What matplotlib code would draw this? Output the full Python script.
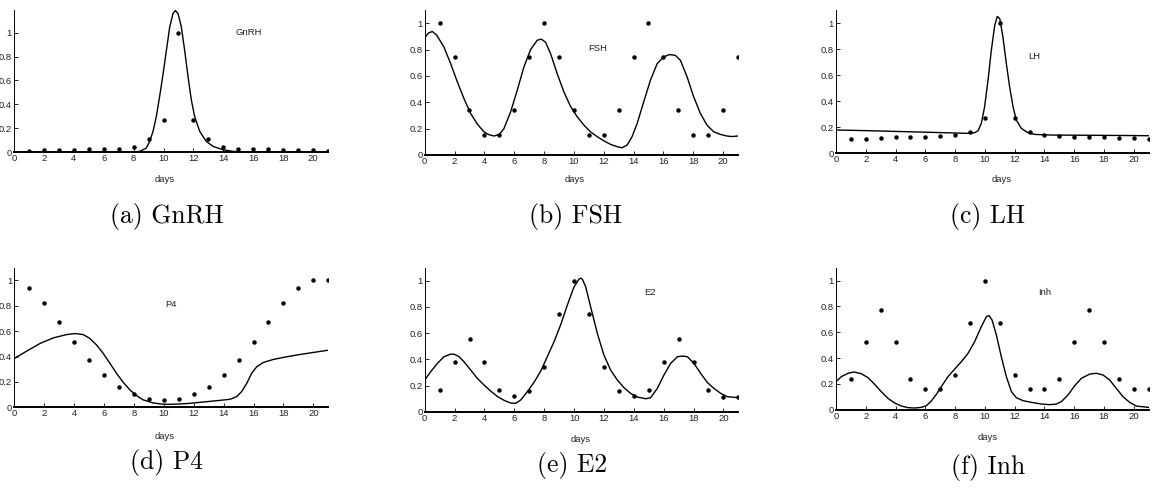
import matplotlib
matplotlib.use("Agg")
import matplotlib.pyplot as plt
from matplotlib import font_manager

W, H = 1152, 490
days = list(range(1, 22))

# ---- data points (normalised measurements) ----
gnrh_pts = [0.005, 0.014, 0.014, 0.02, 0.022, 0.028, 0.028, 0.039, 0.11, 0.265, 1.0,
            0.265, 0.11, 0.04, 0.028, 0.028, 0.022, 0.02, 0.017, 0.014, 0.005]
fsh_pts = [1.0, 0.745, 0.34, 0.15, 0.15, 0.34, 0.745, 1.0, 0.745, 0.34, 0.15,
           0.15, 0.34, 0.745, 1.0, 0.745, 0.34, 0.15, 0.15, 0.34, 0.745]
lh_pts = [0.107, 0.112, 0.117, 0.122, 0.128, 0.128, 0.13, 0.14, 0.16, 0.268, 1.0,
          0.268, 0.16, 0.138, 0.13, 0.128, 0.128, 0.125, 0.12, 0.115, 0.107]
p4_pts = [0.937, 0.819, 0.67, 0.516, 0.372, 0.251, 0.162, 0.102, 0.068, 0.058, 0.068,
          0.102, 0.162, 0.251, 0.372, 0.516, 0.67, 0.819, 0.937, 1.0, 1.0]
e2_pts = [0.168, 0.379, 0.552, 0.379, 0.168, 0.117, 0.155, 0.344, 0.748, 1.0, 0.748,
          0.344, 0.155, 0.117, 0.168, 0.379, 0.552, 0.379, 0.168, 0.112, 0.112]
inh_pts = [0.235, 0.527, 0.77, 0.527, 0.235, 0.16, 0.16, 0.269, 0.669, 1.0, 0.669,
           0.269, 0.16, 0.16, 0.235, 0.527, 0.77, 0.527, 0.235, 0.16, 0.16]

# ---- model curves ----
gnrh_t = [0, 2, 4, 6, 8, 8.4, 8.85, 9.07, 9.3, 9.52, 9.74, 9.96, 10.19, 10.41, 10.63, 10.79,
          10.97, 11.19, 11.41, 11.64, 11.86, 12.08, 12.42, 12.86, 13.31, 13.98, 14.65, 15.76, 18, 21]
gnrh_y = [0, 0, 0, 0, 0.001, 0.005, 0.033, 0.089, 0.173, 0.298, 0.465, 0.646, 0.85, 1.045, 1.16, 1.186,
          1.16, 1.05, 0.855, 0.63, 0.437, 0.298, 0.173, 0.089, 0.047, 0.019, 0.005, 0, 0, 0]

fsh_t = [0, 0.25, 0.51, 0.8, 1.29, 1.74, 2.19, 2.63, 3.08, 3.53, 3.97, 4.31, 4.64, 5.0, 5.31, 5.76,
         6.2, 6.65, 7.1, 7.54, 7.81, 8.1, 8.44, 8.88, 9.33, 9.77, 10.22, 10.67, 11.11, 11.56, 12.0,
         12.45, 12.9, 13.23, 13.57, 13.9, 14.24, 14.68, 15.13, 15.58, 16.02, 16.42, 16.8, 17.14,
         17.59, 18.03, 18.48, 18.92, 19.37, 19.82, 20.26, 20.6, 21.0]
fsh_y = [0.889, 0.925, 0.937, 0.91, 0.819, 0.693, 0.554, 0.428, 0.315, 0.234, 0.176, 0.154, 0.144,
         0.156, 0.2, 0.327, 0.49, 0.668, 0.8, 0.87, 0.879, 0.856, 0.768, 0.617, 0.479, 0.37, 0.29,
         0.227, 0.176, 0.139, 0.108, 0.081, 0.063, 0.055, 0.076, 0.139, 0.239, 0.403, 0.567, 0.693,
         0.745, 0.762, 0.756, 0.718, 0.592, 0.441, 0.315, 0.227, 0.176, 0.156, 0.144, 0.14, 0.144]

lh_t = [0, 2, 4, 6, 8, 8.87, 9.31, 9.54, 9.76, 9.98, 10.21, 10.43, 10.66, 10.83, 11.0, 11.21,
        11.44, 11.66, 11.89, 12.11, 12.45, 12.89, 13.34, 14.46, 17.8, 21]
lh_y = [0.179, 0.174, 0.168, 0.162, 0.156, 0.153, 0.158, 0.173, 0.23, 0.357, 0.561, 0.79, 0.982,
        1.05, 1.033, 0.893, 0.689, 0.51, 0.357, 0.255, 0.191, 0.158, 0.145, 0.14, 0.138, 0.135]

p4_t = [0, 0.82, 1.72, 2.61, 3.5, 4.06, 4.61, 5.06, 5.51, 5.95, 6.4, 6.84, 7.29, 7.74, 8.18, 8.63,
        9.3, 9.96, 10.63, 11.52, 12.42, 13.53, 14.42, 14.87, 15.2, 15.54, 15.87, 16.21, 16.65,
        17.32, 18.21, 19.1, 19.99, 21]
p4_y = [0.385, 0.442, 0.503, 0.547, 0.573, 0.581, 0.573, 0.542, 0.49, 0.424, 0.346, 0.267, 0.196,
        0.136, 0.092, 0.058, 0.034, 0.024, 0.024, 0.029, 0.039, 0.052, 0.063, 0.084, 0.123, 0.188,
        0.267, 0.319, 0.353, 0.377, 0.398, 0.416, 0.432, 0.45]

e2_t = [0, 0.4, 0.85, 1.29, 1.74, 2.0, 2.3, 2.63, 3.08, 3.53, 3.97, 4.42, 4.86, 5.31, 5.76, 6.09,
        6.43, 6.87, 7.32, 7.77, 8.21, 8.66, 9.1, 9.55, 10.0, 10.33, 10.45, 10.56, 10.78, 11.11,
        11.56, 12.0, 12.45, 12.9, 13.35, 13.79, 14.24, 14.8, 15.13, 15.58, 16.02, 16.47, 16.92,
        17.25, 17.59, 18.03, 18.48, 18.92, 19.37, 19.82, 20.26, 21]
e2_y = [0.242, 0.305, 0.369, 0.42, 0.44, 0.438, 0.42, 0.382, 0.318, 0.254, 0.204, 0.158, 0.117,
        0.087, 0.066, 0.064, 0.089, 0.153, 0.224, 0.31, 0.42, 0.534, 0.662, 0.814, 0.954, 1.012,
        1.02, 1.012, 0.954, 0.802, 0.598, 0.433, 0.318, 0.242, 0.183, 0.14, 0.112, 0.099, 0.107,
        0.178, 0.28, 0.369, 0.42, 0.425, 0.42, 0.369, 0.293, 0.224, 0.178, 0.14, 0.115, 0.107]

inh_t = [0, 0.36, 0.81, 1.21, 1.7, 2.15, 2.6, 3.04, 3.49, 3.94, 4.39, 4.84, 5.28, 5.73, 6.07, 6.4,
         6.74, 7.07, 7.52, 7.97, 8.42, 8.87, 9.31, 9.76, 10.1, 10.28, 10.48, 10.77, 11.1, 11.44,
         11.78, 12.11, 12.56, 13.12, 13.79, 14.35, 14.8, 15.13, 15.58, 16.03, 16.48, 17.04, 17.48,
         17.93, 18.38, 18.83, 19.27, 19.72, 20.17, 21]
inh_y = [0.217, 0.256, 0.282, 0.292, 0.279, 0.248, 0.196, 0.14, 0.088, 0.052, 0.028, 0.016, 0.013,
         0.018, 0.031, 0.067, 0.119, 0.178, 0.256, 0.315, 0.372, 0.437, 0.527, 0.643, 0.721, 0.729,
         0.695, 0.579, 0.411, 0.256, 0.14, 0.093, 0.07, 0.057, 0.044, 0.039, 0.044, 0.062, 0.114,
         0.186, 0.243, 0.276, 0.282, 0.269, 0.23, 0.165, 0.101, 0.057, 0.028, 0.018]

names = ["GnRH", "FSH", "LH", "P4", "E2", "Inh"]
captions = ["(a) GnRH", "(b) FSH", "(c) LH", "(d) P4", "(e) E2", "(f) Inh"]
xticks = list(range(0, 22, 2))
yticks = [0, 0.2, 0.4, 0.6, 0.8, 1]
ytick_labels = ["0", "0.2", "0.4", "0.6", "0.8", "1"]

panels = [
    (gnrh_pts, gnrh_t, gnrh_y),
    (fsh_pts, fsh_t, fsh_y),
    (lh_pts, lh_t, lh_y),
    (p4_pts, p4_t, p4_y),
    (e2_pts, e2_t, e2_y),
    (inh_pts, inh_t, inh_y),
]

# ---- layout (pixels) ----
axes_px = [  # left, right, top, bottom
    (14, 328, 10, 152),
    (424.7, 738, 10, 155),
    (836, 1148.7, 10, 153.3),
    (14.3, 328.3, 267.7, 407.3),
    (424.7, 738.3, 267.7, 411.7),
    (836, 1148.7, 267.7, 409.7),
]
ylims = [1.19, 1.1, 1.1, 1.1, 1.1, 1.1]
label_pos = [(15.7, 1.0), (11.6, 0.81), (13.3, 0.745), (10.5, 0.81), (15.07, 0.91), (14.04, 0.907)]
days_pos = [(165, 179), (575, 179), (1002, 179), (165, 436), (581, 439), (988, 438)]
cap_pos = [(167, 216), (576, 217), (988, 217), (166, 462), (572, 465), (988, 467)]

avail = {f.name for f in font_manager.fontManager.ttflist}
narrow = ["Liberation Sans Narrow"] if "Liberation Sans Narrow" in avail else []
small_family = narrow + ["Liberation Sans", "DejaVu Sans"]

fig = plt.figure(figsize=(W / 100, H / 100), dpi=100)

for i, (pts, ct, cy) in enumerate(panels):
    l, r, t, b = axes_px[i]
    ax = fig.add_axes([l / W, 1 - b / H, (r - l) / W, (b - t) / H])
    ax.plot(ct, cy, color="black", lw=1.0, solid_joinstyle="round")
    ax.plot(days, pts, "o", color="black", ms=2.2, mec="black")
    ax.set_xlim(0, 21)
    ax.set_ylim(0, ylims[i])
    ax.spines["top"].set_visible(False)
    ax.spines["right"].set_visible(False)
    ax.spines["bottom"].set_linewidth(1.4)
    ax.spines["left"].set_linewidth(0.7)
    ax.set_xticks(xticks)
    ax.set_xticklabels([str(v) for v in xticks])
    ax.set_yticks(yticks)
    ax.set_yticklabels(ytick_labels)
    ax.tick_params(direction="in", length=3, width=0.7, pad=1.5, labelsize=6.8, colors="#222222")
    for lab in ax.get_xticklabels() + ax.get_yticklabels():
        lab.set_family(small_family)
    ax.text(label_pos[i][0], label_pos[i][1], names[i], fontsize=6.8, family=small_family,
            ha="center", va="center", color="#222222")
    dx, dy = days_pos[i]
    fig.text(dx / W, 1 - dy / H, "days", fontsize=6.8, family=small_family,
             ha="center", va="center", color="#222222")
    cx, cyy = cap_pos[i]
    fig.text(cx / W, 1 - cyy / H, captions[i], fontsize=18.5, family=["cmr10", "DejaVu Serif"],
             ha="center", va="center", color="black")

fig.savefig("out.png", dpi=100)
